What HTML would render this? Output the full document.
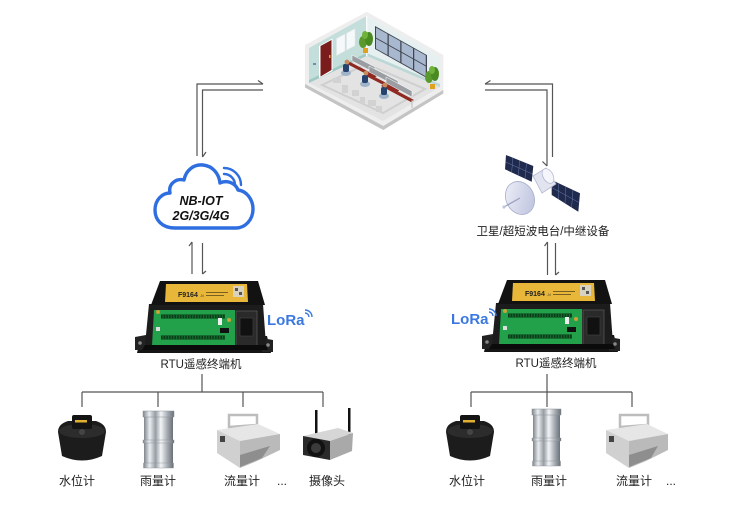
<!DOCTYPE html>
<html><head><meta charset="utf-8"><style>
html,body{margin:0;padding:0;background:#fff;}
svg{display:block;}
text{font-family:"Liberation Sans","Noto Sans CJK SC",sans-serif;}
</style></head><body>
<svg width="750" height="505" viewBox="0 0 750 505" xmlns="http://www.w3.org/2000/svg">
<defs>
<linearGradient id="steel" x1="0" x2="1" y1="0" y2="0">
<stop offset="0" stop-color="#7f858c"/><stop offset=".2" stop-color="#e9edf0"/><stop offset=".4" stop-color="#979da4"/><stop offset=".58" stop-color="#f3f5f7"/><stop offset=".8" stop-color="#a5abb2"/><stop offset="1" stop-color="#6a7077"/>
</linearGradient>
<linearGradient id="dish" x1="0" x2="1" y1="0" y2="1"><stop offset="0" stop-color="#f1f2fa"/><stop offset="1" stop-color="#b9bedb"/></linearGradient>
</defs>
<rect width="750" height="505" fill="#fff"/>

<!-- ===== Control room ===== -->
<g>
<polygon points="305,45 366.7,11.7 443.3,55 443.3,92 383.3,128.5 305,86" fill="#eeeeee"/>
<polygon points="305,84 383.3,126 443.3,90 443.3,93.5 383.3,130 305,87.5" fill="#c4c4c4"/>
<polygon points="309,48 366.7,16 366.7,56 309,83" fill="#c3dedb"/>
<polygon points="309,80 366.7,53 366.7,56 309,83" fill="#9fc9c5"/>
<polygon points="366.7,16 440,57 440,87 366.7,56" fill="#e7f0f0"/>
<polygon points="366.7,53 440,84 440,87 366.7,56" fill="#bcd8d6"/>
<polygon points="309,83 366.7,56 440,87 383,121" fill="#e3e3e3"/>
<polygon points="322,85 366.7,64 425,89 383,113" fill="none" stroke="#cfcfcf" stroke-width="2"/>
<line x1="366.7" y1="16" x2="366.7" y2="56" stroke="#fff" stroke-width="1.2"/>
<!-- door -->
<polygon points="319,46 332.5,38.5 332.5,71 319,78" fill="#fff"/>
<polygon points="320.5,46 331.5,40 331.5,70 320.5,76.5" fill="#7a1c1c"/>
<rect x="329" y="55" width="1.5" height="3" fill="#d4a62a"/>
<rect x="313" y="63" width="3" height="2" fill="#6a8fb5"/>
<!-- left wall windows -->
<polygon points="336.5,38.5 345,34 345,51 336.5,55.5" fill="#f6f9f9" stroke="#e0e6e6" stroke-width=".6"/>
<polygon points="346.5,33.2 355,28.7 355,45.7 346.5,50.2" fill="#f6f9f9" stroke="#e0e6e6" stroke-width=".6"/>
<!-- right wall big window -->
<polygon points="375,26 427,55.1 427,78.1 375,49" fill="#3f4450"/>
<g fill="#a8b8cf">
<polygon points="376,27.6 387.5,34 387.5,44 376,37.6"/>
<polygon points="376,38.6 387.5,45 387.5,55 376,48.6"/>
<polygon points="388.75,34.7 400.25,41.1 400.25,51.1 388.75,44.7"/>
<polygon points="388.75,45.7 400.25,52.1 400.25,62.1 388.75,55.7"/>
<polygon points="401.5,41.8 413,48.2 413,58.2 401.5,51.8"/>
<polygon points="401.5,52.8 413,59.2 413,69.2 401.5,62.8"/>
<polygon points="414.25,48.9 425.75,55.4 425.75,65.4 414.25,58.9"/>
<polygon points="414.25,59.9 425.75,66.4 425.75,76.4 414.25,69.9"/>
</g>
<!-- plants -->
<g>
<ellipse cx="363" cy="42" rx="4" ry="6" fill="#5a9a2c"/>
<ellipse cx="369" cy="39" rx="4" ry="7" fill="#4a8a22"/>
<ellipse cx="365" cy="35" rx="3" ry="4" fill="#6fb33a"/>
<rect x="363" y="48" width="5" height="5" fill="#e0a020"/>
<ellipse cx="429" cy="77" rx="4" ry="6" fill="#5a9a2c"/>
<ellipse cx="435" cy="74" rx="4" ry="7" fill="#4a8a22"/>
<ellipse cx="432" cy="70" rx="3" ry="4" fill="#6fb33a"/>
<rect x="430" y="84" width="5" height="5" fill="#e0a020"/>
</g>
<!-- desks rows -->
<g>
<polygon points="352,55 375,67 375,73 352,61" fill="#9a9ea3" stroke="#fff" stroke-width=".5"/>
<polygon points="350,62 377,76 374,78 347,64" fill="#8f2a22"/>
<polygon points="369,66 398,81 398,87 369,72" fill="#9a9ea3" stroke="#fff" stroke-width=".5"/>
<polygon points="367,73 400,90 397,92 364,75" fill="#8f2a22"/>
<polygon points="386,77 412,91 412,97 386,83" fill="#9a9ea3" stroke="#fff" stroke-width=".5"/>
<polygon points="384,84 414,100 411,102 381,86" fill="#8f2a22"/>
<line x1="412" y1="100" x2="412" y2="108" stroke="#bbb" stroke-width="1"/>
<!-- people -->
<ellipse cx="346" cy="73" rx="5" ry="3" fill="#9fb4c9"/>
<rect x="343" y="64" width="6" height="8" rx="2" fill="#25436e"/>
<circle cx="347" cy="62" r="2.4" fill="#c98a5c"/>
<ellipse cx="365" cy="84" rx="5" ry="3" fill="#9fb4c9"/>
<rect x="362" y="75" width="6" height="8" rx="2" fill="#25436e"/>
<circle cx="366" cy="73" r="2.4" fill="#c98a5c"/>
<ellipse cx="384" cy="96" rx="5" ry="3" fill="#9fb4c9"/>
<rect x="381" y="87" width="6" height="8" rx="2" fill="#25436e"/>
<circle cx="385" cy="85" r="2.4" fill="#c98a5c"/>
</g>
<g fill="#d2d2d2">
<rect x="333" y="78" width="8" height="5"/><rect x="342" y="85" width="6" height="8"/><rect x="352" y="90" width="7" height="6"/><rect x="360" y="97" width="5" height="7"/><rect x="368" y="100" width="8" height="6"/><rect x="376" y="106" width="6" height="6"/>
</g>
</g>

<!-- ===== Connectors ===== -->
<g stroke="#555" stroke-width="1.2" fill="none">
<polyline points="197,156 197,84 263,84"/>
<line x1="263" y1="84" x2="258" y2="80.5"/>
<polyline points="263,90 202.5,90 202.5,157"/>
<line x1="202.5" y1="157" x2="206" y2="152"/>
<polyline points="552.5,157 552.5,84 485,84"/>
<line x1="485" y1="84" x2="490.5" y2="80.5"/>
<polyline points="485,90 547,90 547,166"/>
<line x1="547" y1="166" x2="542.5" y2="161.5"/>
<line x1="192" y1="242" x2="192" y2="274"/>
<line x1="192" y1="242" x2="189" y2="246"/>
<line x1="202.5" y1="243" x2="202.5" y2="274"/>
<line x1="202.5" y1="274" x2="206" y2="271"/>
<line x1="547.5" y1="242" x2="547.5" y2="275"/>
<line x1="547.5" y1="242" x2="544.5" y2="246"/>
<line x1="555.5" y1="243" x2="555.5" y2="275"/>
<line x1="555.5" y1="275" x2="559" y2="272"/>
<!-- branch left -->
<line x1="202" y1="374" x2="202" y2="392"/>
<line x1="82" y1="392" x2="323" y2="392"/>
<line x1="82" y1="392" x2="82" y2="407"/>
<line x1="158" y1="392" x2="158" y2="407"/>
<line x1="243" y1="392" x2="243" y2="407"/>
<line x1="323" y1="392" x2="323" y2="407"/>
<!-- branch right -->
<line x1="547" y1="374" x2="547" y2="407"/>
<line x1="471" y1="392" x2="632" y2="392"/>
<line x1="471" y1="392" x2="471" y2="407"/>
<line x1="632" y1="392" x2="632" y2="407"/>
</g>

<!-- ===== Cloud ===== -->
<path d="M175 228 C162 228 155 220 155 210 C155 200 162 193 170 193 C168 184 176 178 184 180 C186 170 194 164 203 165 C213 166 219 174 220 183 C226 180 235 182 238 190 C247 191 253 200 253 209 C253 220 245 228 236 228 Z" fill="#fff" stroke="#2f6ee0" stroke-width="3.4" stroke-linejoin="round"/>
<path d="M224 168 A17 17 0 0 1 241 185" fill="none" stroke="#2f6ee0" stroke-width="2.4" stroke-linecap="round"/>
<path d="M224 174 A11 11 0 0 1 235 185" fill="none" stroke="#2f6ee0" stroke-width="2.4" stroke-linecap="round"/>
<text x="201" y="205" font-size="12.5" font-weight="bold" font-style="italic" text-anchor="middle" fill="#111">NB-IOT</text>
<text x="201" y="220" font-size="12.5" font-weight="bold" font-style="italic" text-anchor="middle" fill="#111">2G/3G/4G</text>

<!-- ===== Satellite ===== -->
<g>
<polygon points="506,155 533.3,166 531.7,181.7 505,169.3" fill="#1f2a4d"/>
<g stroke="#6a7bb0" stroke-width=".5">
<line x1="512.8" y1="157.8" x2="511.7" y2="172"/><line x1="519.6" y1="160.5" x2="518.4" y2="175"/><line x1="526.5" y1="163.2" x2="525" y2="178.5"/>
<line x1="505.5" y1="162" x2="532.5" y2="174"/>
</g>
<polygon points="551.7,180 580,193.3 578.3,211.7 551.7,195" fill="#1f2a4d"/>
<g stroke="#6a7bb0" stroke-width=".5">
<line x1="558.8" y1="183.3" x2="558.3" y2="199"/><line x1="565.9" y1="186.7" x2="565" y2="203"/><line x1="573" y1="190" x2="571.6" y2="207.5"/>
<line x1="551.7" y1="187.5" x2="579" y2="202.5"/>
</g>
<polygon points="533,176 546,168 556,184 542,193" fill="#e2e4f0" stroke="#b5b9d2" stroke-width=".8"/>
<ellipse cx="548" cy="176" rx="5" ry="8" transform="rotate(-30 548 176)" fill="#f5f6fb" stroke="#b5b9d2" stroke-width=".8"/>
<ellipse cx="520" cy="198" rx="14" ry="17" transform="rotate(-25 520 198)" fill="url(#dish)" stroke="#a9aecb" stroke-width=".8"/>
<line x1="520" y1="198" x2="504" y2="207" stroke="#9aa0c0" stroke-width="1.2"/>
<circle cx="504" cy="207" r="1.6" fill="#c3c7de"/>
</g>
<text x="543" y="235" font-size="11.5" text-anchor="middle" fill="#222">卫星/超短波电台/中继设备</text>

<!-- ===== RTU left ===== -->
<g>
<polygon points="141,336 267,336 271,353 137,353" fill="#151515"/>
<polygon points="135,337 146,335 146,350 135,350" fill="#222"/>
<circle cx="140" cy="343" r="1.8" fill="#888"/>
<polygon points="262,338 273,340 273,352 262,352" fill="#222"/>
<circle cx="268" cy="345" r="1.8" fill="#888"/>
<polygon points="149,304 263,304 266,345 145,345" fill="#1c1c1c"/>
<polygon points="160,281 258,281 265,305 151,305" fill="#121212"/>
<polygon points="166,284 247,284 248,302 165,302" fill="#e8b73a"/>
<text x="178" y="297" font-size="7" font-weight="bold" fill="#222">F9164</text>
<text x="200" y="297" font-size="3.5" fill="#333">-N</text>
<rect x="206" y="292" width="22" height="1" fill="#7a6020"/>
<rect x="206" y="295" width="18" height="1" fill="#7a6020"/>
<rect x="233" y="286" width="11" height="11" fill="#d8d2bf"/>
<rect x="235" y="288" width="3" height="3" fill="#555"/><rect x="239" y="292" width="3" height="3" fill="#555"/>
<polygon points="154,310 235,310 235,346 152,346" fill="#23a04a"/>
<rect x="161" y="314" width="64" height="5" fill="#156b30"/>
<line x1="161" y1="316.5" x2="225" y2="316.5" stroke="#0a3a18" stroke-width="3" stroke-dasharray="1.5 1.2"/>
<rect x="161" y="335" width="64" height="5" fill="#156b30"/>
<line x1="161" y1="337.5" x2="225" y2="337.5" stroke="#0a3a18" stroke-width="3" stroke-dasharray="1.5 1.2"/>
<circle cx="158" cy="312" r="2" fill="#c9a23a"/>
<circle cx="229" cy="320" r="2" fill="#c9a23a"/>
<rect x="156" y="327" width="4" height="4" fill="#ddd"/>
<rect x="218" y="318" width="4" height="7" fill="#eee"/>
<rect x="220" y="328" width="9" height="5" fill="#111"/>
<rect x="236" y="311" width="21" height="35" fill="#2a2a2a" stroke="#555" stroke-width=".8"/>
<rect x="240" y="318" width="13" height="18" fill="#111" stroke="#444" stroke-width=".6"/>
<polygon points="145,345 266,345 268,350 142,350" fill="#0b0b0b"/>
</g>
<text x="267" y="325" font-size="15" font-weight="bold" fill="#3a78e0">LoRa</text>
<path d="M305 310 A7 7 0 0 1 312 317" fill="none" stroke="#3a78e0" stroke-width="1.4"/>
<path d="M305 313 A4 4 0 0 1 309 317" fill="none" stroke="#3a78e0" stroke-width="1.4"/>
<text x="201" y="368" font-size="11.5" text-anchor="middle" fill="#222">RTU遥感终端机</text>

<!-- ===== RTU right ===== -->
<g transform="translate(347,-1)">
<polygon points="141,336 267,336 271,353 137,353" fill="#151515"/>
<polygon points="135,337 146,335 146,350 135,350" fill="#222"/>
<circle cx="140" cy="343" r="1.8" fill="#888"/>
<polygon points="262,338 273,340 273,352 262,352" fill="#222"/>
<circle cx="268" cy="345" r="1.8" fill="#888"/>
<polygon points="149,304 263,304 266,345 145,345" fill="#1c1c1c"/>
<polygon points="160,281 258,281 265,305 151,305" fill="#121212"/>
<polygon points="166,284 247,284 248,302 165,302" fill="#e8b73a"/>
<text x="178" y="297" font-size="7" font-weight="bold" fill="#222">F9164</text>
<text x="200" y="297" font-size="3.5" fill="#333">-N</text>
<rect x="206" y="292" width="22" height="1" fill="#7a6020"/>
<rect x="206" y="295" width="18" height="1" fill="#7a6020"/>
<rect x="233" y="286" width="11" height="11" fill="#d8d2bf"/>
<rect x="235" y="288" width="3" height="3" fill="#555"/><rect x="239" y="292" width="3" height="3" fill="#555"/>
<polygon points="154,310 235,310 235,346 152,346" fill="#23a04a"/>
<rect x="161" y="314" width="64" height="5" fill="#156b30"/>
<line x1="161" y1="316.5" x2="225" y2="316.5" stroke="#0a3a18" stroke-width="3" stroke-dasharray="1.5 1.2"/>
<rect x="161" y="335" width="64" height="5" fill="#156b30"/>
<line x1="161" y1="337.5" x2="225" y2="337.5" stroke="#0a3a18" stroke-width="3" stroke-dasharray="1.5 1.2"/>
<circle cx="158" cy="312" r="2" fill="#c9a23a"/>
<circle cx="229" cy="320" r="2" fill="#c9a23a"/>
<rect x="156" y="327" width="4" height="4" fill="#ddd"/>
<rect x="218" y="318" width="4" height="7" fill="#eee"/>
<rect x="220" y="328" width="9" height="5" fill="#111"/>
<rect x="236" y="311" width="21" height="35" fill="#2a2a2a" stroke="#555" stroke-width=".8"/>
<rect x="240" y="318" width="13" height="18" fill="#111" stroke="#444" stroke-width=".6"/>
<polygon points="145,345 266,345 268,350 142,350" fill="#0b0b0b"/>
</g>
<text x="451" y="324" font-size="15" font-weight="bold" fill="#3a78e0">LoRa</text>
<path d="M489 309 A7 7 0 0 1 496 316" fill="none" stroke="#3a78e0" stroke-width="1.4"/>
<path d="M489 312 A4 4 0 0 1 493 316" fill="none" stroke="#3a78e0" stroke-width="1.4"/>
<text x="556" y="367" font-size="11.5" text-anchor="middle" fill="#222">RTU遥感终端机</text>

<!-- ===== Sensors: water level ===== -->
<g transform="translate(82,0)">
<path d="M-24 432 Q-24 424 -14 421 L14 421 Q24 424 24 432 L20 456 Q0 465 -20 456 Z" fill="#1c1c1c"/>
<ellipse cx="0" cy="431" rx="23" ry="7" fill="#2c2c2c"/>
<rect x="-10" y="415" width="20" height="14" rx="2" fill="#141414"/>
<rect x="-7" y="420" width="12" height="2.5" fill="#e0b030"/>
<circle cx="0" cy="432" r="3" fill="#444"/>
</g>
<g transform="translate(470,0)">
<path d="M-24 432 Q-24 424 -14 421 L14 421 Q24 424 24 432 L20 456 Q0 465 -20 456 Z" fill="#1c1c1c"/>
<ellipse cx="0" cy="431" rx="23" ry="7" fill="#2c2c2c"/>
<rect x="-10" y="415" width="20" height="14" rx="2" fill="#141414"/>
<rect x="-7" y="420" width="12" height="2.5" fill="#e0b030"/>
<circle cx="0" cy="432" r="3" fill="#444"/>
</g>

<!-- rain gauge -->
<g>
<rect x="144" y="414" width="29" height="53" fill="url(#steel)"/>
<rect x="143" y="411" width="31" height="6" fill="url(#steel)" stroke="#8a9097" stroke-width=".5"/>
<rect x="143" y="440" width="31" height="3" fill="url(#steel)" stroke="#8a9097" stroke-width=".4"/>
<rect x="143.5" y="463" width="30" height="5" fill="url(#steel)" stroke="#8a9097" stroke-width=".4"/>
</g>
<g>
<rect x="533" y="412" width="27" height="53" fill="url(#steel)"/>
<rect x="532" y="409" width="29" height="6" fill="url(#steel)" stroke="#8a9097" stroke-width=".5"/>
<rect x="532" y="438" width="29" height="3" fill="url(#steel)" stroke="#8a9097" stroke-width=".4"/>
<rect x="532.5" y="461" width="28" height="5" fill="url(#steel)" stroke="#8a9097" stroke-width=".4"/>
</g>

<!-- flow meter -->
<g>
<polygon points="229,427 229,415 257,415 257,425" fill="none" stroke="#bdbdbd" stroke-width="2.5"/>
<polygon points="217,430 258,424 280,434 240,441" fill="#e6e6e6"/>
<polygon points="217,430 240,441 240,468 217,453" fill="#d0d0d0"/>
<polygon points="240,441 280,434 280,450 257,461 240,468" fill="#bababa"/>
<polygon points="240,455 270,446 262,458 240,467" fill="#8e8e8e"/>
<rect x="220" y="436" width="5" height="6" fill="#444"/>
</g>
<g>
<polygon points="620,427 620,415 648,415 648,425" fill="none" stroke="#bdbdbd" stroke-width="2.5"/>
<polygon points="606,430 647,424 668,434 629,441" fill="#e6e6e6"/>
<polygon points="606,430 629,441 629,468 606,453" fill="#d0d0d0"/>
<polygon points="629,441 668,434 668,450 646,461 629,468" fill="#bababa"/>
<polygon points="629,455 658,446 651,458 629,467" fill="#8e8e8e"/>
<rect x="609" y="436" width="5" height="6" fill="#444"/>
</g>

<!-- camera -->
<g>
<rect x="315" y="410" width="2.5" height="28" fill="#111"/>
<rect x="348" y="408" width="2.5" height="30" fill="#111"/>
<polygon points="303,436 338,428 353,433 330,441" fill="#d6d6d6"/>
<polygon points="303,436 330,441 330,460 303,455" fill="#2a2a2a"/>
<polygon points="330,441 353,433 352,451 330,460" fill="#a9a9a9"/>
<circle cx="316" cy="448" r="9" fill="#111"/>
<circle cx="316" cy="448" r="5" fill="#3b3b3b"/>
</g>

<!-- ===== Labels ===== -->
<g font-size="12" fill="#222" text-anchor="middle">
<text x="77" y="485">水位计</text>
<text x="158" y="485">雨量计</text>
<text x="242" y="485">流量计</text>
<text x="282" y="485">...</text>
<text x="327" y="485">摄像头</text>
<text x="467" y="485">水位计</text>
<text x="549" y="485">雨量计</text>
<text x="634" y="485">流量计</text>
<text x="671" y="485">...</text>
</g>
</svg>
</body></html>
